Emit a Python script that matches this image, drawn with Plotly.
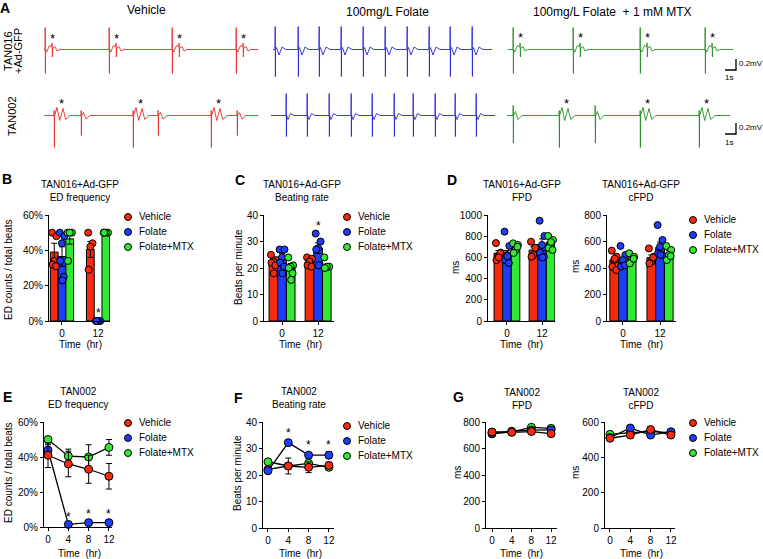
import plotly.graph_objects as go

W, H = 763, 559
FONT = "Liberation Sans, Arial, Helvetica, sans-serif"

SERIES = ["Vehicle", "Folate", "Folate+MTX"]
FILL = ["#f52b10", "#1f3df8", "#33e833"]
TRACE_COL = ["#ec2b2b", "#2626dc", "#238f23"]

# ---------------- Panel A : field-potential traces ----------------
A_COLUMNS = ["Vehicle", "100mg/L Folate", "100mg/L Folate  + 1 mM MTX"]

# beat templates (time offset s, voltage mV)
ed016_t = [0, 0.02, 0.04, 0.06, 0.17, 0.45, 0.68, 0.71, 0.74, 0.77, 1.0, 1.2, 1.5]
ed016_v = [0, 0.44, -0.48, 0.0, -0.05, 0.08, 0.05, 0.13, -0.15, 0.03, 0.06, -0.03, 0]
n016_t = [0, 0.02, 0.04, 0.06, 0.15, 0.4, 0.7, 1.1]
n016_v = [0, 0.46, -0.54, 0.0, 0.04, -0.11, 0.05, 0]
ed002_t = [0, 0.02, 0.04, 0.06, 0.3, 0.57, 0.9, 1.17, 1.6]
ed002_v = [0, 0.1, -0.64, 0.0, 0.16, -0.1, 0.14, -0.08, 0]
n002_t = [0, 0.02, 0.04, 0.06, 0.25, 0.5, 0.9]
n002_v = [0, 0.1, -0.4, 0.0, 0.06, -0.07, 0]
n002g_v = [0, 0.2, -0.55, 0.0, 0.08, -0.08, 0]
n002f_t = [0, 0.02, 0.04, 0.06, 0.2, 0.45, 0.8]
n002f_v = [0, 0.44, -0.42, 0.0, -0.08, 0.04, 0]

# beat onsets (s)
red1_ed = [0.1, 6.5, 12.8, 19.2]
blue1_n = [0.2, 2.5, 4.6, 6.8, 9.0, 11.2, 13.4, 15.6, 17.7, 19.9]
green1_ed = [0.5, 6.5, 13.2, 19.7]
red2_ed = [1.0, 8.9, 16.7]
red2_n = [3.7, 11.4, 19.3]
blue2_n = [1.5, 3.6, 5.8, 8.0, 10.1, 12.3, 14.2, 16.4, 18.4, 20.5]
green2_ed = [5.2, 13.3, 19.2]
green2_n = [0.6, 8.8]
trace_len = [21.4, 21.9, 22.5, 21.4, 22.4, 22.3]

# ---------------- Panel B : TAN016 ED frequency (%) ----------------
bar_times = ["0", "12"]
b_mean_veh = [39, 40.5]
b_mean_fol = [36.5, 0]
b_mean_mtx = [46.5, 50]
b_sem_veh = [5, 4.5]
b_sem_fol = [5.5, 0]
b_sem_mtx = [3, 0]
b_pts_veh = [[50, 48, 34, 32, 31], [50, 44, 42, 29]]
b_pts_fol = [[50, 48, 44, 34, 25, 23], [0, 0, 0, 0]]
b_pts_mtx = [[50, 50, 50, 34], [50, 50, 50, 50]]

# ---------------- Panel C : TAN016 beating rate ----------------
c_mean_veh = [22.4, 22.3]
c_mean_fol = [24.2, 27.5]
c_mean_mtx = [20.5, 20.2]
c_sem_veh = [1.0, 0.7]
c_sem_fol = [1.3, 2.0]
c_sem_mtx = [1.2, 1.0]
c_pts_veh = [[25, 23, 22.5, 22, 21, 18], [24, 23.5, 22.5, 21, 20.5]]
c_pts_fol = [[27, 27, 24, 22, 20.5, 18], [33, 30, 27.5, 27, 21, 21]]
c_pts_mtx = [[24, 21, 20.5, 20, 18, 15.5], [24, 20.5, 20.5, 20]]

# ---------------- Panel D : TAN016 FPD / cFPD (ms) ----------------
d1_mean_veh = [640, 670]
d1_mean_fol = [620, 720]
d1_mean_mtx = [700, 745]
d1_sem_veh = [25, 30]
d1_sem_fol = [45, 55]
d1_sem_mtx = [20, 25]
d1_pts_veh = [[735, 645, 610, 575, 640, 600], [748, 689, 623, 607, 690]]
d1_pts_fol = [[843, 708, 623, 575, 547, 610], [946, 802, 717, 642, 607, 600]]
d1_pts_mtx = [[733, 717, 670, 642, 700], [802, 764, 717, 689, 670, 745]]

d2_mean_veh = [460, 478]
d2_mean_fol = [445, 556]
d2_mean_mtx = [470, 510]
d2_sem_veh = [20, 20]
d2_sem_fol = [25, 40]
d2_sem_mtx = [15, 20]
d2_pts_veh = [[531, 485, 460, 410, 385, 470], [548, 485, 448, 435, 480]]
d2_pts_fol = [[566, 498, 460, 410, 420], [724, 611, 561, 511, 498, 500]]
d2_pts_mtx = [[511, 485, 460, 435, 470], [566, 536, 498, 460, 490]]

# ---------------- Panels E-G : TAN002 time course ----------------
hours = [0, 4, 8, 12]
e_veh = [41, 36, 33, 29]
e_fol = [44, 1.5, 2.5, 2.5]
e_mtx = [50, 40.5, 40, 45.5]
e_sem_veh = [7, 7.3, 8, 7.3]
e_sem_fol = [3, 0.5, 0.8, 0.8]
e_sem_mtx = [0.5, 4, 7, 4.5]

f_veh = [22.1, 23.4, 22.9, 23.6]
f_fol = [21.6, 32.2, 27.5, 27.5]
f_mtx = [25, 23.4, 24.4, 22.9]
f_sem_veh = [1, 3, 2, 1.2]
f_sem_fol = [1, 1, 1, 1.3]
f_sem_mtx = [0.5, 1, 1.2, 1]

g1_veh = [725, 722, 728, 712]
g1_fol = [720, 730, 738, 740]
g1_mtx = [710, 725, 760, 752]
g1_sem = [10, 10, 12, 10]

g2_veh = [508, 526, 557, 526]
g2_fol = [512, 566, 526, 545]
g2_mtx = [530, 540, 545, 540]
g2_sem = [8, 8, 8, 8]

# =====================================================================
fig = go.Figure()
L = {}
ann = []
n_ax = [0]
JIT = [-0.28, 0.28, 0.0, -0.22, 0.22, 0.05, -0.05]


def axes(xpx, ypx, xr, yr, xkw=None, ykw=None):
    n_ax[0] += 1
    n = n_ax[0]
    sx = "" if n == 1 else str(n)
    xa = dict(domain=[max(0, xpx[0] / W), min(1, xpx[1] / W)], range=xr, anchor="y" + sx,
              fixedrange=True, automargin=False)
    ya = dict(domain=[max(0, 1 - ypx[1] / H), min(1, 1 - ypx[0] / H)], range=yr, anchor="x" + sx,
              fixedrange=True, automargin=False)
    if xkw is None:
        xa["visible"] = False
    else:
        xa.update(xkw)
    if ykw is None:
        ya["visible"] = False
    else:
        ya.update(ykw)
    L["xaxis" + sx] = xa
    L["yaxis" + sx] = ya
    return "x" + sx, "y" + sx


def style(tickvals, ticktext=None):
    d = dict(showline=True, linecolor="black", linewidth=1, ticks="outside", ticklen=3,
             tickwidth=1, tickcolor="black", showgrid=False, zeroline=False,
             tickfont=dict(size=10, color="black", family=FONT), tickvals=tickvals)
    if ticktext is not None:
        d["ticktext"] = ticktext
    return d


def text(x, y, s, size=10, bold=False, angle=0, xanchor="center", yanchor="middle"):
    ann.append(dict(xref="paper", yref="paper", x=x / W, y=1 - y / H,
                    text="<b>%s</b>" % s if bold else s, showarrow=False,
                    font=dict(size=size, color="black", family=FONT), textangle=angle,
                    xanchor=xanchor, yanchor=yanchor))


def build_trace(groups, length):
    ev = []
    for onsets, tt, vv in groups:
        for o in onsets:
            ev.append((o, tt, vv))
    ev.sort(key=lambda e: e[0])
    t, v = [0.0], [0.0]
    for o, tt, vv in ev:
        t.append(o - 0.01)
        v.append(0.0)
        t += [o + d for d in tt]
        v += list(vv)
    t.append(length)
    v.append(0.0)
    return t, v


# ---- Panel A
# (x-domain px, baseline px, axis span s, colour, beats, starred beats, star height, scalebar)
trace_specs = [
    ([44, 258], 49.5, 21.4, 0, [(red1_ed, ed016_t, ed016_v)], red1_ed, 0.21, None),
    ([273, 492], 49.5, 21.9, 1, [(blue1_n, n016_t, n016_v)], [], 0, None),
    ([508, 760], 49.5, 25.2, 2, [(green1_ed, ed016_t, ed016_v)], green1_ed, 0.23,
     (21.7, -0.41, -0.19, -0.56)),
    ([44, 258], 115.5, 21.4, 0, [(red2_ed, ed002_t, ed002_v), (red2_n, n002_t, n002_v)], red2_ed, 0.24, None),
    ([271, 495], 115.5, 22.4, 1, [(blue2_n, n002f_t, n002f_v)], [], 0, None),
    ([507, 760], 115.5, 25.3, 2, [(green2_ed, ed002_t, ed002_v), (green2_n, n002_t, n002g_v)], green2_ed, 0.24,
     (21.8, -0.37, -0.15, -0.53)),
]
for k, (xpx, base, xmax, ci, groups, stars, sy, sb) in enumerate(trace_specs):
    xs, ys = axes(xpx, [base - 36, base + 36], [0, xmax], [-0.72, 0.72])
    t, v = build_trace(groups, trace_len[k])
    fig.add_scatter(x=t, y=v, mode="lines", line=dict(color=TRACE_COL[ci], width=0.9),
                    xaxis=xs, yaxis=ys, showlegend=False, hoverinfo="skip")
    for o in stars:
        ann.append(dict(xref=xs, yref=ys, x=o + 0.75, y=sy, text="*", showarrow=False,
                        font=dict(size=13, color="black", family=FONT), yanchor="middle"))
    if sb is not None:
        t0, ylo, yhi, ylab = sb
        fig.add_scatter(x=[t0, t0 + 1.1, t0 + 1.1], y=[ylo, ylo, yhi], mode="lines",
                        line=dict(color="black", width=1.3), xaxis=xs, yaxis=ys,
                        showlegend=False, hoverinfo="skip", cliponaxis=False)
        ann.append(dict(xref=xs, yref=ys, x=t0 + 1.2, y=(ylo + yhi) / 2 + 0.02, text="0.2mV",
                        showarrow=False, xanchor="left",
                        font=dict(size=8, color="black", family=FONT)))
        ann.append(dict(xref=xs, yref=ys, x=t0 + 0.35, y=ylab, text="1s", showarrow=False,
                        font=dict(size=8, color="black", family=FONT)))

text(5, 8, "A", 14, bold=True)
text(146, 10, A_COLUMNS[0], 12)
text(387, 12, A_COLUMNS[1], 12)
text(612, 12, A_COLUMNS[2], 12)
text(8, 51, "TAN016", 11, angle=-90)
text(18, 51, "+Ad-GFP", 11, angle=-90)
text(12, 116, "TAN002", 11, angle=-90)


# ---- bar panels
def bar_panel(xpx, ypx, xr, yr, ytv, yttext, w, means, sems, pts, star_group=None):
    xs, ys = axes(xpx, ypx, xr, yr, style([0, 1], bar_times), style(ytv, yttext))
    for i in range(3):
        xpos = [g + (i - 1) * w for g in range(len(means[i]))]
        fig.add_bar(x=xpos, y=means[i], width=w,
                    marker=dict(color=FILL[i], line=dict(color="black", width=1)),
                    error_y=dict(type="data", array=sems[i], color="black", thickness=1, width=3),
                    xaxis=xs, yaxis=ys, showlegend=False, hoverinfo="skip")
    for i in range(3):
        px_, py_ = [], []
        for g, vals in enumerate(pts[i]):
            for j, val in enumerate(vals):
                px_.append(g + (i - 1) * w + JIT[j % len(JIT)] * w)
                py_.append(val)
        fig.add_scatter(x=px_, y=py_, mode="markers",
                        marker=dict(size=7, color=FILL[i], line=dict(color="black", width=1)),
                        cliponaxis=False, xaxis=xs, yaxis=ys, showlegend=False, hoverinfo="skip")
    if star_group is not None:
        i, g = star_group
        ann.append(dict(xref=xs, yref=ys, x=g + (i - 1) * w, y=max(pts[i][g]), yshift=8,
                        text="*", showarrow=False,
                        font=dict(size=12, color="black", family=FONT)))
    return xs, ys


bar_panel([49, 110], [215, 321], [-0.36, 1.33], [0, 60], [0, 20, 40, 60],
          ["0%", "20%", "40%", "60%"], 0.215,
          [b_mean_veh, b_mean_fol, b_mean_mtx], [b_sem_veh, b_sem_fol, b_sem_mtx],
          [b_pts_veh, b_pts_fol, b_pts_mtx], star_group=(1, 1))
bar_panel([264, 334], [215, 321], [-0.5, 1.44], [0, 40], [0, 10, 20, 30, 40], None, 0.24,
          [c_mean_veh, c_mean_fol, c_mean_mtx], [c_sem_veh, c_sem_fol, c_sem_mtx],
          [c_pts_veh, c_pts_fol, c_pts_mtx], star_group=(1, 1))
bar_panel([488, 555], [215, 321], [-0.54, 1.37], [0, 1000], [0, 200, 400, 600, 800, 1000], None, 0.245,
          [d1_mean_veh, d1_mean_fol, d1_mean_mtx], [d1_sem_veh, d1_sem_fol, d1_sem_mtx],
          [d1_pts_veh, d1_pts_fol, d1_pts_mtx])
bar_panel([607, 676], [215, 321], [-0.43, 1.43], [0, 800], [0, 200, 400, 600, 800], None, 0.235,
          [d2_mean_veh, d2_mean_fol, d2_mean_mtx], [d2_sem_veh, d2_sem_fol, d2_sem_mtx],
          [d2_pts_veh, d2_pts_fol, d2_pts_mtx])


# ---- line panels
def line_panel(xpx, ypx, xr, yr, ytv, yttext, series, sems, order, stars=False):
    xs, ys = axes(xpx, ypx, xr, yr, style(hours), style(ytv, yttext))
    for i in order:
        fig.add_scatter(x=hours, y=series[i], mode="lines", line=dict(color="black", width=1.3),
                        xaxis=xs, yaxis=ys, showlegend=False, hoverinfo="skip", cliponaxis=False)
    for i in order:
        fig.add_scatter(x=hours, y=series[i], mode="markers",
                        marker=dict(size=8, color=FILL[i], line=dict(color="black", width=1)),
                        error_y=dict(type="data", array=sems[i], color="black", thickness=1, width=3),
                        xaxis=xs, yaxis=ys, showlegend=False, hoverinfo="skip", cliponaxis=False)
    if stars:
        for k in range(1, len(hours)):
            ann.append(dict(xref=xs, yref=ys, x=hours[k], y=series[1][k] + sems[1][k], yshift=7,
                            text="*", showarrow=False,
                            font=dict(size=12, color="black", family=FONT)))


line_panel([44, 112], [422, 527], [-0.79, 12.6], [0, 60], [0, 20, 40, 60],
           ["0%", "20%", "40%", "60%"], [e_veh, e_fol, e_mtx],
           [e_sem_veh, e_sem_fol, e_sem_mtx], [2, 1, 0], stars=True)
line_panel([263, 334], [422, 528], [-0.98, 13.0], [0, 40], [0, 10, 20, 30, 40], None,
           [f_veh, f_fol, f_mtx], [f_sem_veh, f_sem_fol, f_sem_mtx], [2, 0, 1], stars=True)
line_panel([486, 557], [422, 528], [-1.22, 13.2], [0, 800], [0, 200, 400, 600, 800], None,
           [g1_veh, g1_fol, g1_mtx], [g1_sem, g1_sem, g1_sem], [2, 1, 0])
line_panel([605, 675], [422, 528], [-0.98, 12.8], [0, 600], [0, 200, 400, 600], None,
           [g2_veh, g2_fol, g2_mtx], [g2_sem, g2_sem, g2_sem], [2, 1, 0])


# ---- legends (marker key + label)
def legend_at(mx, y0, dy=15):
    right = min(mx + 94, W)
    xs, ys = axes([mx - 6, right], [y0 - dy / 2, y0 + 2 * dy + dy / 2], [-6, right - mx], [2.5, -0.5])
    fig.add_scatter(x=[0, 0, 0], y=[0, 1, 2], mode="markers+text",
                    text=["\u00a0\u00a0" + s for s in SERIES], textposition="middle right",
                    marker=dict(size=7, color=FILL, line=dict(color="black", width=1)),
                    textfont=dict(size=10, family=FONT, color="black"),
                    xaxis=xs, yaxis=ys, showlegend=False, hoverinfo="skip", cliponaxis=False)


for mx, y0 in [(128, 217), (347, 217), (693, 220), (128, 423), (347, 426), (693, 423)]:
    legend_at(mx, y0)

# ---- panel letters, titles, axis titles
for lx, ly, s in [(7, 179, "B"), (240, 180, "C"), (452, 180, "D"),
                  (7, 397, "E"), (238, 398, "F"), (458, 397, "G")]:
    text(lx, ly, s, 14, bold=True)

for cx, cy, s in [(80, 191, "TAN016+Ad-GFP<br>ED frequency"),
                  (302, 191, "TAN016+Ad-GFP<br>Beating rate"),
                  (522, 191, "TAN016+Ad-GFP<br>FPD"),
                  (641, 191, "TAN016+Ad-GFP<br>cFPD"),
                  (78, 398, "TAN002<br>ED frequency"),
                  (299, 398, "TAN002<br>Beating rate"),
                  (522, 399, "TAN002<br>FPD"),
                  (641, 399, "TAN002<br>cFPD")]:
    text(cx, cy, s, 10)

for cx, cy in [(80, 344), (300, 344), (521, 344), (641, 344),
               (79, 553), (300, 553), (521, 553), (641, 553)]:
    text(cx, cy, "Time\u00a0 (hr)", 10)

for cx, cy, s in [(8, 270, "ED counts / total beats"), (238, 267, "Beats per minute"),
                  (455, 268, "ms"), (575, 267, "ms"),
                  (8, 473, "ED counts / total beats"), (237, 473, "Beats per minute"),
                  (457, 473, "ms"), (575, 473, "ms")]:
    text(cx, cy, s, 10, angle=-90)

fig.update_layout(
    template="none",
    width=W, height=H, margin=dict(l=0, r=0, t=0, b=0, pad=0, autoexpand=False),
    paper_bgcolor="white", plot_bgcolor="rgba(0,0,0,0)",
    barmode="overlay", showlegend=False, annotations=ann, hovermode=False,
    font=dict(family=FONT, color="black", size=10), **L)

fig.write_html("out.html",
               config={"displayModeBar": False, "staticPlot": True},
               post_script="document.body.style.margin='0';document.body.style.padding='0';"
                           "document.documentElement.style.margin='0';")
